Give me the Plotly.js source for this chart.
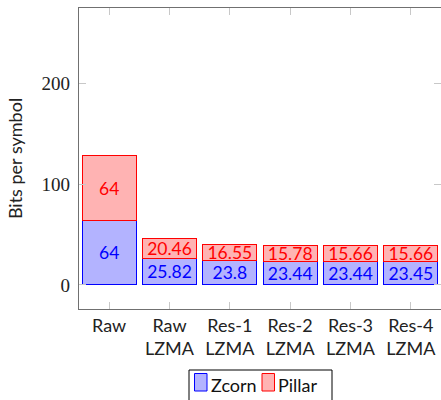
<!DOCTYPE html>
<html>
<head>
<meta charset="utf-8">
<script src="https://cdn.plot.ly/plotly-3.0.1.min.js"></script>
<style>html,body{margin:0;padding:0;background:#fff;}#chart{width:441px;height:400px;}</style>
</head>
<body>
<div id="chart"></div>
<script>
const categories = ["Raw", "Raw<br>LZMA", "Res-1<br>LZMA", "Res-2<br>LZMA", "Res-3<br>LZMA", "Res-4<br>LZMA"];
const zcorn = [64, 25.82, 23.8, 23.44, 23.44, 23.45];
const pillar = [64, 20.46, 16.55, 15.78, 15.66, 15.66];
const zcornLabels = ["64", "25.82", "23.8", "23.44", "23.44", "23.45"];
const pillarLabels = ["64", "20.46", "16.55", "15.78", "15.66", "15.66"];
const yTicks = [0, 100, 200];
const seriesNames = ["Zcorn", "Pillar"];

const sans = "Lato, 'Open Sans', sans-serif";
const xIdx = categories.map((c, i) => i);
const blueLine = "#0000ff", blueFill = "rgb(179,179,255)";
const redLine = "#ff0000", redFill = "rgb(255,179,179)";

const traces = [
  {
    type: "bar", name: seriesNames[0], x: xIdx, y: zcorn, text: zcornLabels,
    textposition: "inside", insidetextanchor: "middle", constraintext: "none",
    textfont: {family: sans, size: 17.5, color: blueLine},
    marker: {color: blueFill, line: {color: blueLine, width: 1}},
    hoverinfo: "none"
  },
  {
    type: "bar", name: seriesNames[1], x: xIdx, y: pillar, text: pillarLabels,
    textposition: "inside", insidetextanchor: "middle", constraintext: "none",
    textfont: {family: sans, size: 17.5, color: redLine},
    marker: {color: redFill, line: {color: redLine, width: 1}},
    hoverinfo: "none"
  }
];

// plot area in pixels: left 79, right 441, top 8, bottom 309
const PL = 79, PW = 362, PB = 309, PH = 301;
const px = v => (v - PL) / PW;
const py = v => (PB - v) / PH;

const legendShapes = [
  {type: "rect", xref: "paper", yref: "paper", x0: px(189), x1: px(332), y0: py(370), y1: py(403),
   line: {color: "#000", width: 1}, fillcolor: "#fff", layer: "above"},
  {type: "rect", xref: "paper", yref: "paper", x0: px(194.5), x1: px(207), y0: py(373.5), y1: py(391),
   line: {color: blueLine, width: 1}, fillcolor: blueFill, layer: "above"},
  {type: "rect", xref: "paper", yref: "paper", x0: px(262), x1: px(274.5), y0: py(373.5), y1: py(391),
   line: {color: redLine, width: 1}, fillcolor: redFill, layer: "above"}
];
const legendText = [
  {xref: "paper", yref: "paper", x: px(209), y: py(385), xanchor: "left", yanchor: "middle",
   text: seriesNames[0], showarrow: false, font: {family: sans, size: 18, color: "#111"}},
  {xref: "paper", yref: "paper", x: px(276), y: py(385), xanchor: "left", yanchor: "middle",
   text: seriesNames[1], showarrow: false, font: {family: sans, size: 18, color: "#111"}}
];

const layout = {
  width: 441, height: 400,
  margin: {l: 79, r: 0, t: 8, b: 91},
  paper_bgcolor: "#fff", plot_bgcolor: "#fff",
  barmode: "stack", bargap: 0.106,
  showlegend: false,
  shapes: legendShapes,
  annotations: legendText,
  xaxis: {
    range: [-0.5, 5.5], tickvals: xIdx, ticktext: categories,
    ticks: "inside", ticklen: 7, tickcolor: "#c8c8c8", tickwidth: 1,
    showline: true, linecolor: "#707070", linewidth: 1.3, mirror: "allticks",
    showgrid: false, zeroline: false,
    tickfont: {family: sans, size: 18, color: "#222"}
  },
  yaxis: {
    range: [-23.8, 274.3], tickvals: yTicks, ticktext: yTicks.map(String),
    ticks: "inside", ticklen: 7, tickcolor: "#c8c8c8", tickwidth: 1,
    showline: true, linecolor: "#707070", linewidth: 1.3, mirror: "allticks",
    showgrid: false, zeroline: false, ticklabelstandoff: 4,
    tickfont: {family: "'Liberation Serif', 'DejaVu Serif', serif", size: 19, color: "#222"},
    title: {text: "Bits per symbol", font: {family: sans, size: 18, color: "#222"}, standoff: 14}
  }
};

Plotly.newPlot("chart", traces, layout, {staticPlot: true, displayModeBar: false});
</script>
</body>
</html>
